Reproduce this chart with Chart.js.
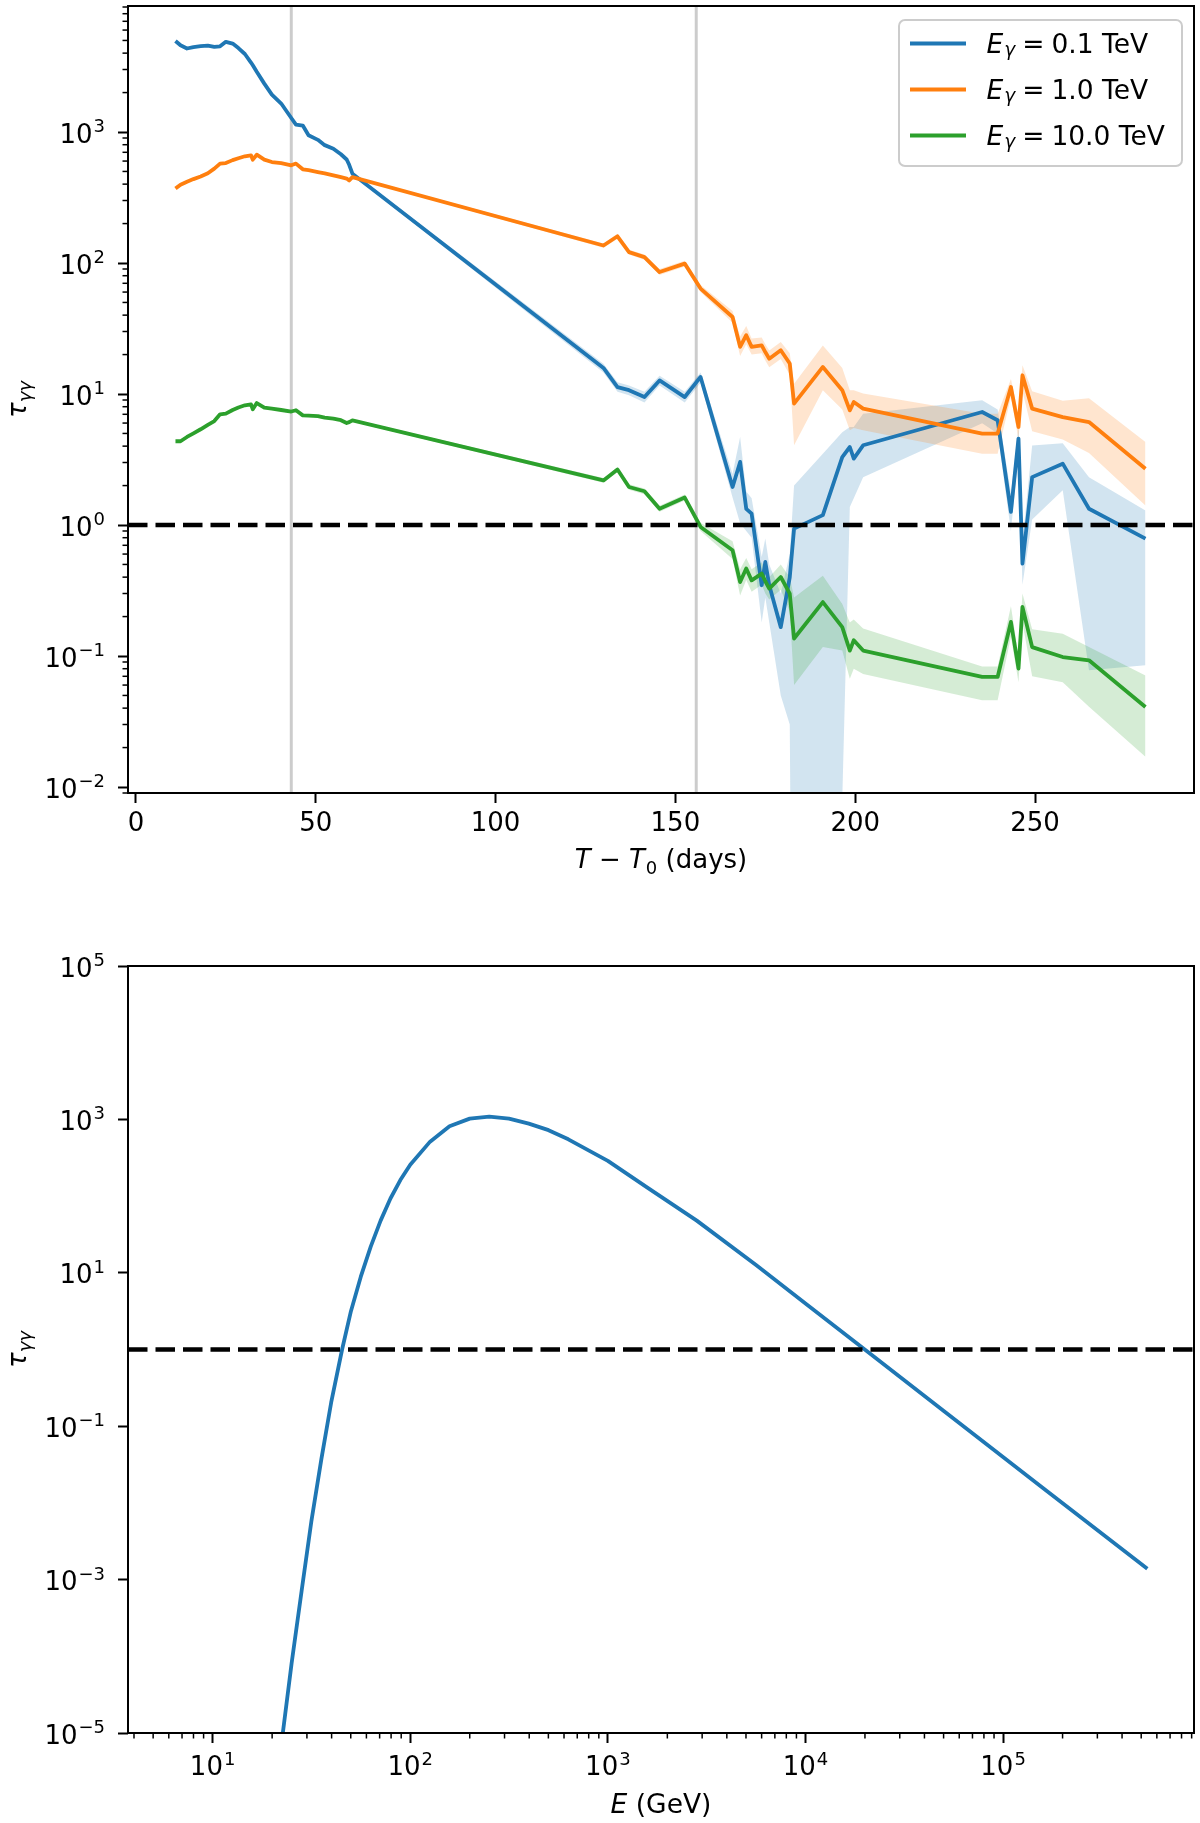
<!DOCTYPE html>
<html>
<head>
<meta charset="utf-8">
<script src="https://cdn.jsdelivr.net/npm/chart.js@4.4.1/dist/chart.umd.min.js"></script>
<style>
  html, body { margin: 0; padding: 0; background: #fff; }
  #wrap { position: relative; width: 1200px; height: 1823px; }
  canvas { position: absolute; left: 0; }
  #topChart { top: 0; }
  #bottomChart { top: 900px; }
</style>
</head>
<body>
<div id="wrap">
  <canvas id="topChart" width="1200" height="900"></canvas>
  <canvas id="bottomChart" width="1200" height="923"></canvas>
</div>
<script>
// ---- top panel: opacity vs time ----
const days = [11.0, 12.4, 14.2, 16.0, 18.0, 20.0, 21.8, 23.4, 25.0, 26.9, 28.5, 30.3, 32.0, 32.5, 33.6,
  35.7, 37.8, 40.4, 43.2, 44.5, 46.4, 48.0, 50.6, 52.5, 54.9, 57.0, 58.6, 59.3, 60.2,
  130.0, 133.9, 137.1, 141.4, 145.6, 152.6, 157.0, 165.9, 168.0, 169.7, 171.2, 174.0, 175.0, 176.1,
  179.3, 181.8, 183.0, 191.0, 196.4, 198.5, 199.6, 202.2, 235.3, 239.6, 243.3, 245.4, 246.5, 249.2,
  257.7, 265.0, 280.7];

const tau01 = [4950, 4590, 4340, 4450, 4520, 4570, 4470, 4510, 4880, 4730, 4370, 3940, 3390, 3230, 2880,
  2340, 1930, 1650, 1280, 1140, 1120, 944, 871, 794, 746, 676, 617, 562, 481,
  15.8, 11.3, 10.7, 9.48, 12.7, 9.48, 13.5, 1.95, 3.03, 1.33, 1.22, 0.347, 0.522, 0.347,
  0.166, 0.398, 0.938, 1.19, 3.30, 3.94, 3.21, 4.06, 7.29, 6.30, 1.26, 4.57, 0.507, 2.32,
  2.94, 1.33, 0.787];

const tau1 = [370, 396, 417, 437, 457, 484, 525, 574, 579, 610, 631, 653, 664, 615, 671,
  615, 590, 578, 557, 574, 519, 511, 495, 484, 467, 452, 441, 427, 453,
  136, 160, 121, 111, 85.3, 98.9, 63.8, 38.7, 22.9, 28.1, 22.9, 23.5, 20.9, 18.6,
  21.6, 17.1, 8.45, 16.1, 10.7, 7.50, 8.69, 7.73, 4.99, 4.99, 11.3, 5.60, 13.9, 7.73,
  6.67, 6.11, 2.69];

const tau10 = [4.36, 4.36, 4.70, 5.01, 5.38, 5.82, 6.22, 7.00, 7.08, 7.55, 7.89, 8.20, 8.34, 7.64, 8.53,
  7.87, 7.73, 7.55, 7.35, 7.52, 6.87, 6.84, 6.79, 6.61, 6.49, 6.31, 6.01, 6.10, 6.30,
  2.19, 2.65, 1.95, 1.81, 1.33, 1.62, 0.966, 0.641, 0.367, 0.465, 0.378, 0.426, 0.372, 0.327,
  0.401, 0.299, 0.136, 0.258, 0.166, 0.110, 0.132, 0.110, 0.0692, 0.0692, 0.182, 0.0802, 0.237, 0.117,
  0.0982, 0.0927, 0.0408];

// uncertainty bands (they only become visible after day 60)
const bandDays = [60.2, 130.0, 133.9, 137.1, 141.4, 145.6, 152.6, 157.0, 165.9, 168.0, 169.7, 171.2,
  174.0, 175.0, 176.1, 179.3, 181.8, 183.0, 191.0, 196.4, 198.5, 199.6, 202.2, 235.3, 239.6,
  243.3, 245.4, 246.5, 249.2, 257.7, 265.0, 280.7];

const lo01 = [470, 14.6, 10.4, 9.8, 8.6, 11.6, 8.6, 12.2, 1.62, 1.03, 0.9, 0.8,
  0.18, 0.28, 0.18, 0.05, 0.03, 1e-6, 1e-6, 0.008, 1.37, 1.6, 2.32, 5.98, 5.0,
  0.9, 3.5, 0.35, 1.1, 1.84, 0.078, 0.085];
const hi01 = [492, 17.0, 12.3, 11.6, 10.4, 13.8, 10.4, 14.6, 2.45, 4.7, 1.8, 1.6,
  0.57, 0.79, 0.5, 0.30, 0.6, 2.0, 3.5, 5.1, 5.6, 5.6, 7.08, 8.95, 7.6,
  1.75, 5.6, 0.74, 4.05, 4.2, 2.32, 1.29];

const lo1 = [445, 131, 153, 116, 106, 81, 94, 60, 35, 19.5, 24, 20,
  20.5, 18, 16, 18.5, 14, 4.06, 10.7, 7.6, 5.3, 5.5, 5.28, 3.5, 3.5,
  9.5, 4.5, 10.5, 5.2, 4.5, 3.55, 1.41];
const hi1 = [461, 141, 167, 126, 116, 90, 104, 68, 43, 27.5, 33, 26.5,
  27, 24, 21.5, 25, 20.5, 12.0, 23.5, 15.8, 10.7, 10.7, 10.1, 7.08, 7.08,
  13, 7.0, 16.6, 10.5, 8.9, 9.3, 4.3];

const lo10 = [6.15, 2.1, 2.54, 1.86, 1.72, 1.26, 1.54, 0.9, 0.55, 0.29, 0.38, 0.31,
  0.35, 0.3, 0.27, 0.32, 0.22, 0.06, 0.117, 0.11, 0.067, 0.08, 0.073, 0.046, 0.046,
  0.14, 0.063, 0.18, 0.07, 0.063, 0.041, 0.017];
const hi10 = [6.45, 2.28, 2.76, 2.05, 1.9, 1.4, 1.71, 1.04, 0.75, 0.46, 0.56, 0.46,
  0.52, 0.46, 0.4, 0.5, 0.4, 0.28, 0.41, 0.25, 0.18, 0.19, 0.162, 0.083, 0.083,
  0.24, 0.1, 0.3, 0.16, 0.148, 0.117, 0.071];

const markerDays = [43.2, 155.8];
const legendEnergies = ['0.1', '1.0', '10.0'];
const xTicksTop = [0, 50, 100, 150, 200, 250];
const yTicksTop = [0.01, 0.1, 1, 10, 100, 1000];

// ---- bottom panel: opacity vs energy ----
const energy = [21.9, 25.1, 28.2, 31.6, 35.5, 39.8, 45.2, 50.1, 56.2, 63.1, 70.8, 79.4, 89.1, 100,
  126, 158, 200, 251, 316, 398, 501, 631, 1000, 1585, 2818, 5623, 10000, 19953, 50119, 158489, 537032];
const tauE = [5.0e-6, 8.1e-5, 7.1e-4, 5.75e-3, 0.0372, 0.204, 1.0, 3.16, 8.9, 21.9, 47.9, 93, 162, 257,
  513, 813, 1023, 1084, 1023, 881, 724, 550, 288, 129, 47.9, 12.6, 3.98, 1.0, 0.158, 0.0158, 1.38e-3];
const xTicksBottom = [1e1, 1e2, 1e3, 1e4, 1e5];
const yTicksBottom = [1e-5, 1e-3, 1e-1, 1e1, 1e3, 1e5];

const BLUE = '#1f77b4', ORANGE = '#ff7f0e', GREEN = '#2ca02c';
const FONT = "'DejaVu Sans', sans-serif";

function pts(xs, ys) { return xs.map((x, i) => ({ x: x, y: ys[i] })); }

function minorDecades(lo, hi) {
  const out = [];
  for (let k = -6; k <= 6; k++) {
    for (let m = 2; m <= 9; m++) {
      const v = m * Math.pow(10, k);
      if (v >= lo && v <= hi) out.push(v);
    }
  }
  return out;
}

// draw a run of text pieces with different fonts / offsets
function drawRich(ctx, parts, x, y, center) {
  let w = 0;
  parts.forEach(p => { ctx.font = p.font; p.w = ctx.measureText(p.t).width + (p.gap || 0); w += p.w; });
  let cx = center ? x - w / 2 : x;
  parts.forEach(p => {
    ctx.font = p.font;
    ctx.fillText(p.t, cx, y + (p.dy || 0));
    cx += p.w;
  });
}

// "10" with a raised exponent, like matplotlib's log tick labels
function drawPow(ctx, v, x, y, align) {
  const e = String(Math.round(Math.log10(v))).replace('-', '\u2212');
  ctx.font = '26px ' + FONT;
  const w1 = ctx.measureText('10').width;
  ctx.font = '18px ' + FONT;
  const w2 = ctx.measureText(e).width;
  const w = w1 + 1 + w2;
  const x0 = align === 'right' ? x - w : x - w / 2;
  ctx.font = '26px ' + FONT;
  ctx.fillText('10', x0, y);
  ctx.font = '18px ' + FONT;
  ctx.fillText(e, x0 + w1 + 1, y - 10.5);
}

function axisOpts(type, min, max, ticks, size, showLabels) {
  return {
    type: type, min: min, max: max,
    border: { display: false },
    grid: { display: true, drawOnChartArea: false, drawTicks: true, tickLength: 10, tickWidth: 2, tickColor: '#000' },
    ticks: { display: showLabels, color: '#000', font: { family: FONT, size: 26 }, padding: 6,
      autoSkip: false, maxRotation: 0, callback: v => String(v) },
    afterBuildTicks: s => { s.ticks = ticks.filter(v => v >= min && v <= max).map(v => ({ value: v })); },
    afterFit: s => {
      if (s.isHorizontal()) s.height = size; else s.width = size;
      s.paddingTop = 0; s.paddingBottom = 0; s.paddingLeft = 0; s.paddingRight = 0;
    }
  };
}

function framePlugin(cfg) {
  return {
    id: 'frame',
    afterDraw(chart) {
      const ctx = chart.ctx, a = chart.chartArea;
      const sx = chart.scales.x, sy = chart.scales.y;
      ctx.save();
      ctx.strokeStyle = '#000';
      ctx.lineWidth = 1.5;
      (cfg.minorY || []).forEach(v => {
        const p = sy.getPixelForValue(v);
        ctx.beginPath(); ctx.moveTo(a.left - 5.5, p); ctx.lineTo(a.left, p); ctx.stroke();
      });
      (cfg.minorX || []).forEach(v => {
        const p = sx.getPixelForValue(v);
        ctx.beginPath(); ctx.moveTo(p, a.bottom); ctx.lineTo(p, a.bottom + 5.5); ctx.stroke();
      });
      ctx.lineWidth = 2;
      ctx.strokeRect(a.left, a.top, a.right - a.left, a.bottom - a.top);

      ctx.fillStyle = '#000';
      ctx.textBaseline = 'alphabetic';
      ctx.textAlign = 'left';
      // power-of-ten tick labels on the log axes
      sy.ticks.forEach(t => drawPow(ctx, t.value, a.left - 23, sy.getPixelForValue(t.value) + 10.5, 'right'));
      if (cfg.powX) {
        sx.ticks.forEach(t => drawPow(ctx, t.value, sx.getPixelForValue(t.value), a.bottom + 42, 'center'));
      }

      drawRich(ctx, cfg.xTitle, (a.left + a.right) / 2, a.bottom + cfg.xTitleOffset, true);

      ctx.save();
      ctx.translate(26, (a.top + a.bottom) / 2);
      ctx.rotate(-Math.PI / 2);
      drawRich(ctx, [
        { t: '\u03C4', font: 'italic 26px ' + FONT },
        { t: '\u03B3\u03B3', font: 'italic 18px ' + FONT, dy: 5 }
      ], 0, 0, true);
      ctx.restore();

      if (cfg.legend) {
        const bx = a.right - 295, by = a.top + 14, bw = 283, bh = 146;
        ctx.beginPath();
        ctx.roundRect(bx, by, bw, bh, 6);
        ctx.fillStyle = 'rgba(255,255,255,0.8)';
        ctx.fill();
        ctx.strokeStyle = '#cccccc';
        ctx.lineWidth = 2;
        ctx.stroke();
        const cols = [BLUE, ORANGE, GREEN];
        legendEnergies.forEach((lab, i) => {
          const yc = by + 23.5 + i * 46;
          ctx.strokeStyle = cols[i];
          ctx.lineWidth = 3.8;
          ctx.beginPath(); ctx.moveTo(bx + 11, yc); ctx.lineTo(bx + 67, yc); ctx.stroke();
          ctx.fillStyle = '#000';
          drawRich(ctx, [
            { t: 'E', font: 'italic 26.5px ' + FONT, gap: 1 },
            { t: '\u03B3', font: 'italic 18.5px ' + FONT, dy: 3, gap: 7 },
            { t: '=', font: '26.5px ' + FONT, gap: 7 },
            { t: lab + ' TeV', font: '26.5px ' + FONT }
          ], bx + 87.5, yc + 9.5, false);
        });
      }
      ctx.restore();
    }
  };
}

function lineDs(xs, ys, color, order) {
  return { data: pts(xs, ys), borderColor: color, borderWidth: 3.8, pointRadius: 0, fill: false,
    borderJoinStyle: 'round', order: order };
}
function bandDs(los, his, fillColor, order) {
  return [
    { data: pts(bandDays, his), borderColor: 'transparent', borderWidth: 0, pointRadius: 0,
      fill: '+1', backgroundColor: fillColor, order: order },
    { data: pts(bandDays, los), borderColor: 'transparent', borderWidth: 0, pointRadius: 0,
      fill: false, order: order + 1 }
  ];
}
function refLine(xs, ys, color, width, dash, order) {
  return { data: pts(xs, ys), borderColor: color, borderWidth: width, borderDash: dash,
    pointRadius: 0, fill: false, order: order };
}

const xMinTop = -2.2, xMaxTop = 294.2, yMinTop = 0.009, yMaxTop = 9160;

new Chart(document.getElementById('topChart'), {
  type: 'line',
  data: {
    datasets: [
      refLine([xMinTop, xMaxTop], [1, 1], '#000', 4.5, [19.5, 8], 0),
      lineDs(days, tau10, GREEN, 1),
      lineDs(days, tau1, ORANGE, 2),
      lineDs(days, tau01, BLUE, 3),
      refLine([markerDays[0], markerDays[0]], [1e-3, 1e5], 'rgba(0,0,0,0.2)', 3, [], 6),
      refLine([markerDays[1], markerDays[1]], [1e-3, 1e5], 'rgba(0,0,0,0.2)', 3, [], 6),
      ...bandDs(lo10, hi10, 'rgba(44,160,44,0.2)', 10),
      ...bandDs(lo1, hi1, 'rgba(255,127,14,0.2)', 12),
      ...bandDs(lo01, hi01, 'rgba(31,119,180,0.2)', 14)
    ]
  },
  options: {
    responsive: false, animation: false, devicePixelRatio: 1, events: [],
    layout: { padding: { left: 0, top: 6, right: 6, bottom: 0 } },
    plugins: { legend: { display: false }, tooltip: { enabled: false } },
    scales: {
      x: axisOpts('linear', xMinTop, xMaxTop, xTicksTop, 107, true),
      y: axisOpts('logarithmic', yMinTop, yMaxTop, yTicksTop, 128, false)
    }
  },
  plugins: [framePlugin({
    minorY: minorDecades(yMinTop, yMaxTop),
    legend: true,
    powX: false,
    xTitleOffset: 75,
    xTitle: [
      { t: 'T', font: 'italic 26px ' + FONT },
      { t: ' \u2212 ', font: '26px ' + FONT },
      { t: 'T', font: 'italic 26px ' + FONT, gap: 1 },
      { t: '0', font: '18px ' + FONT, dy: 6 },
      { t: ' (days)', font: '26px ' + FONT }
    ]
  })]
});

const xMinBot = 3.73, xMaxBot = 9.25e5, yMinBot = 1e-5, yMaxBot = 1e5;

new Chart(document.getElementById('bottomChart'), {
  type: 'line',
  data: {
    datasets: [
      refLine([xMinBot, xMaxBot], [1, 1], '#000', 4.5, [19.5, 8], 0),
      lineDs(energy, tauE, BLUE, 1)
    ]
  },
  options: {
    responsive: false, animation: false, devicePixelRatio: 1, events: [],
    layout: { padding: { left: 0, top: 66, right: 6, bottom: 0 } },
    plugins: { legend: { display: false }, tooltip: { enabled: false } },
    scales: {
      x: axisOpts('logarithmic', xMinBot, xMaxBot, xTicksBottom, 90, false),
      y: axisOpts('logarithmic', yMinBot, yMaxBot, yTicksBottom, 128, false)
    }
  },
  plugins: [framePlugin({
    minorX: minorDecades(xMinBot, xMaxBot),
    legend: false,
    powX: true,
    xTitleOffset: 80,
    xTitle: [
      { t: 'E', font: 'italic 26.5px ' + FONT },
      { t: ' (GeV)', font: '26.5px ' + FONT }
    ]
  })]
});
</script>
</body>
</html>
